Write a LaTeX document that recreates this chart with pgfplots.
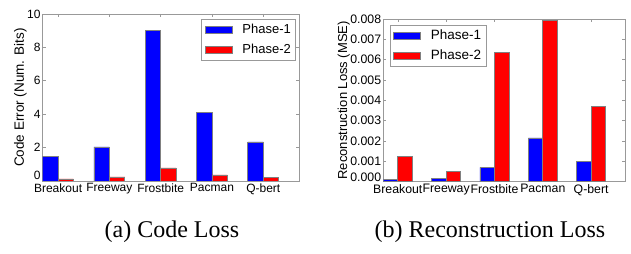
\documentclass[border=0pt]{standalone}
\usepackage{pgfplots}
\pgfplotsset{compat=1.18}
\usepackage{fontspec}
\setmainfont{Liberation Sans}
\newfontfamily\capfont{Liberation Serif}
\definecolor{frame}{gray}{0.6}
\definecolor{edge}{gray}{0.5}
\pgfplotsset{
  barstyle/.style={
    scale only axis,
    xmin=0, xmax=5,
    ymin=0,
    axis line style={frame, line width=0.9pt},
    tick align=inside,
    major tick length=3pt,
    tick style={frame, line width=0.6pt},
    xtick={0.3,1.3,2.3,3.3,4.3},
    xticklabels={Breakout,Freeway,Frostbite,Pacman,Q-bert},
    xticklabel style={inner sep=0pt, yshift=-2.5pt},
    yticklabel style={inner sep=1pt, xshift=-1pt},
    scaled y ticks=false,
    legend cell align=left,
    legend style={draw=frame, line width=0.7pt, inner xsep=3pt, inner ysep=3pt, row sep=5pt},
    /tikz/every odd column/.append style={column sep=8pt},
    every axis plot/.append style={draw=edge, line width=0.8pt, bar width=0.3, bar shift=0pt},
  },
  mylegend/.style={legend image code/.code={\draw[##1,/tikz/.cd] (0pt,-3.5pt) rectangle (27pt,3.5pt);}},
}
\begin{document}
\begin{tikzpicture}[x=1pt,y=1pt]
\useasboundingbox (0,0) rectangle (631,254);
\begin{axis}[barstyle,
  at={(42.7pt,73pt)}, anchor=south west,
  width=256.5pt, height=167pt,
  ymax=10, ytick={0,2,4,6,8,10},
  yticklabels={\raisebox{1pt}[0pt][0pt]{0},2,4,6,8,10},
  tick label style={font=\fontsize{12}{14}\selectfont},
  ylabel={Code Error (Num. Bits)},
  ylabel style={font=\fontsize{13.5}{15}\selectfont, yshift=-4pt},
  legend style={at={(1,1)}, anchor=north east, xshift=-3pt, yshift=-5pt, font=\fontsize{13}{15}\selectfont},
]
\addplot[ybar, fill=blue, mylegend] coordinates {(0.15,1.48) (1.15,2.04) (2.15,9.04) (3.15,4.08) (4.15,2.34)};
\addplot[ybar, fill=red, mylegend] coordinates {(0.45,0.12) (1.45,0.24) (2.45,0.78) (3.45,0.36) (4.45,0.22)};
\legend{Phase-1,Phase-2}
\end{axis}
\begin{axis}[barstyle,
  at={(383.3pt,72.3pt)}, anchor=south west,
  width=241.7pt, height=162.7pt,
  ymax=0.008, ytick={0,0.001,0.002,0.003,0.004,0.005,0.006,0.007,0.008},
  yticklabels={\raisebox{0pt}[0pt][0pt]{0.000},0.001,0.002,0.003,0.004,0.005,0.006,0.007,0.008},
  tick label style={font=\fontsize{12.3}{14}\selectfont},
  ylabel={Reconstruction Loss (MSE)},
  ylabel style={font=\fontsize{13}{15}\selectfont, yshift=-4pt},
  legend style={at={(0,1)}, anchor=north west, xshift=6.5pt, yshift=-5.5pt, font=\fontsize{13.5}{15}\selectfont},
]
\addplot[ybar, fill=blue, mylegend] coordinates {(0.15,0.000116) (1.15,0.000166) (2.15,0.00071) (3.15,0.00215) (4.15,0.00101)};
\addplot[ybar, fill=red, mylegend] coordinates {(0.45,0.00126) (1.45,0.000513) (2.45,0.00634) (3.45,0.00791) (4.45,0.00372)};
\legend{Phase-1,Phase-2}
\end{axis}
\node[font=\capfont\fontsize{24}{27}\selectfont] at (172,22) {(a) Code Loss};
\node[font=\capfont\fontsize{24}{27}\selectfont] at (490,22) {(b) Reconstruction Loss};
\end{tikzpicture}
\end{document}
